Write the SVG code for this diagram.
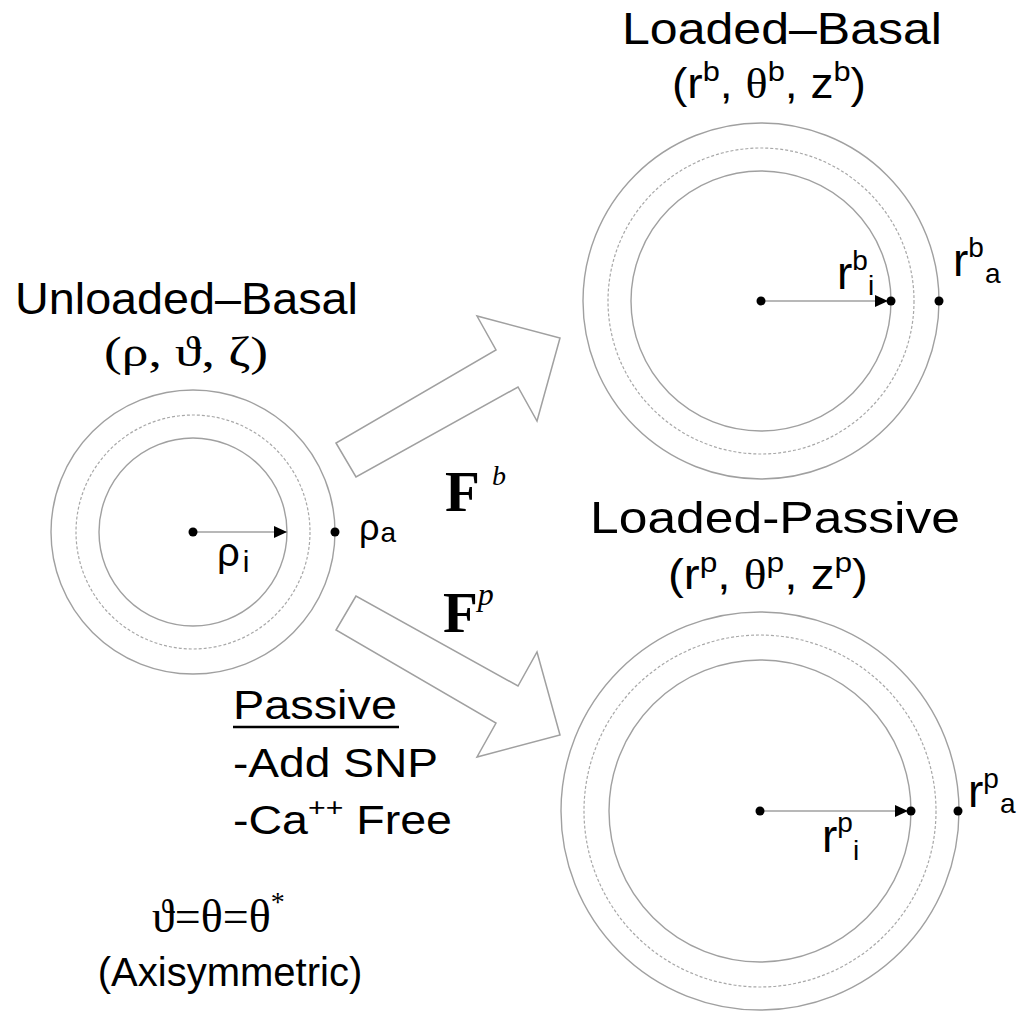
<svg xmlns="http://www.w3.org/2000/svg" width="1021" height="1011" viewBox="0 0 1021 1011">
<defs>
<style>
.ring{fill:none;stroke:#a0a0a0;stroke-width:1.4}
.dash{fill:none;stroke:#a8a8a8;stroke-width:1.2;stroke-dasharray:3 2}
.rad{stroke:#a0a0a0;stroke-width:1.6}
.dot{fill:#000}
.blk{fill:#fff;stroke:#a0a0a0;stroke-width:1.5;stroke-linejoin:miter}
.sans{font-family:"Liberation Sans",Arial,sans-serif;fill:#000}
.serif{font-family:"Liberation Serif","DejaVu Serif",serif;fill:#000}
</style>
<marker id="ah" markerUnits="userSpaceOnUse" markerWidth="14" markerHeight="12" refX="13" refY="6" orient="auto">
<path d="M0,0 L13,6 L0,12 Z" fill="#000"/>
</marker>
</defs>
<rect width="1021" height="1011" fill="#fff"/>

<g id="connectors">
<polygon class="blk" points="336,443 356,477 518,387 537,421 560,338 477,316 496,350"/>
<polygon class="blk" points="356,596 336,630 496,723 477,757 560,735 537,652 518,686"/>
</g>

<g id="unloaded-basal">
<circle class="ring" cx="193" cy="532" r="142"/>
<circle class="dash" cx="193" cy="532" r="117"/>
<circle class="ring" cx="193" cy="532" r="94"/>
<line class="rad" x1="193" y1="532" x2="287" y2="532" marker-end="url(#ah)"/>
<circle class="dot" cx="193" cy="532" r="4.5"/>
<circle class="dot" cx="335" cy="532" r="4.5"/>
<text class="sans" x="15" y="314" font-size="45" textLength="343" lengthAdjust="spacingAndGlyphs">Unloaded–Basal</text>
<text class="serif" x="104" y="366" font-size="42" textLength="164" lengthAdjust="spacingAndGlyphs">(ρ, ϑ, ζ)</text>
<text class="sans" x="359" y="540" font-size="36">ρ<tspan font-size="28" dy="2" dx="1">a</tspan></text>
<text class="sans" x="217" y="566" font-size="40">ρ<tspan font-size="30" dy="6" dx="3">i</tspan></text>
</g>

<g id="loaded-basal">
<circle class="ring" cx="761" cy="301" r="178"/>
<circle class="dash" cx="761" cy="301" r="153"/>
<circle class="ring" cx="761" cy="301" r="130"/>
<line class="rad" x1="761" y1="301" x2="888" y2="301" marker-end="url(#ah)"/>
<circle class="dot" cx="761" cy="301" r="4.5"/>
<circle class="dot" cx="891" cy="301" r="4.5"/>
<circle class="dot" cx="939" cy="301" r="4.5"/>
<text class="sans" x="622" y="44" font-size="45" textLength="320" lengthAdjust="spacingAndGlyphs">Loaded–Basal</text>
<text class="sans" x="672" y="98" font-size="42" textLength="194" lengthAdjust="spacingAndGlyphs">(r<tspan font-size="28" dy="-17">b</tspan><tspan dy="17">, </tspan><tspan class="serif">θ</tspan><tspan font-size="28" dy="-17">b</tspan><tspan dy="17">, z</tspan><tspan font-size="28" dy="-17">b</tspan><tspan dy="17">)</tspan></text>
<text class="sans" x="837" y="289" font-size="46">r<tspan font-size="28" dy="-19">b</tspan><tspan font-size="28" dy="25">i</tspan></text>
<text class="sans" x="953" y="276" font-size="46">r<tspan font-size="28" dy="-19">b</tspan><tspan font-size="28" dx="1" dy="26">a</tspan></text>
</g>

<g id="loaded-passive">
<circle class="ring" cx="760" cy="811" r="199"/>
<circle class="dash" cx="760" cy="811" r="176"/>
<circle class="ring" cx="760" cy="811" r="151"/>
<line class="rad" x1="760" y1="811" x2="908" y2="811" marker-end="url(#ah)"/>
<circle class="dot" cx="760" cy="811" r="4.5"/>
<circle class="dot" cx="911" cy="811" r="4.5"/>
<circle class="dot" cx="958" cy="811" r="4.5"/>
<text class="sans" x="590" y="533" font-size="45" textLength="370" lengthAdjust="spacingAndGlyphs">Loaded-Passive</text>
<text class="sans" x="668" y="589" font-size="42" textLength="200" lengthAdjust="spacingAndGlyphs">(r<tspan font-size="28" dy="-17">p</tspan><tspan dy="17">, </tspan><tspan class="serif">θ</tspan><tspan font-size="28" dy="-17">p</tspan><tspan dy="17">, z</tspan><tspan font-size="28" dy="-17">p</tspan><tspan dy="17">)</tspan></text>
<text class="sans" x="822" y="852" font-size="46">r<tspan font-size="28" dy="-20">p</tspan><tspan font-size="28" dy="28">i</tspan></text>
<text class="sans" x="968" y="807" font-size="46">r<tspan font-size="28" dy="-19">p</tspan><tspan font-size="28" dx="1" dy="25">a</tspan></text>
</g>

<g id="labels">
<text class="serif" x="445" y="511" font-size="57" font-weight="bold">F</text>
<text class="serif" x="492" y="485" font-size="28" font-style="italic">b</text>
<text class="serif" x="443" y="632" font-size="57" font-weight="bold">F<tspan font-size="32" font-weight="normal" font-style="italic" dy="-27">p</tspan></text>
<text class="sans" x="233" y="719" font-size="40" textLength="164" lengthAdjust="spacingAndGlyphs">Passive</text>
<line x1="233" y1="727" x2="399" y2="727" stroke="#000" stroke-width="2.5"/>
<text class="sans" x="233" y="777" font-size="40" textLength="205" lengthAdjust="spacingAndGlyphs">-Add SNP</text>
<text class="sans" x="233" y="834" font-size="40" textLength="219" lengthAdjust="spacingAndGlyphs">-Ca<tspan font-size="26" dy="-18">++</tspan><tspan dy="18"> Free</tspan></text>
<text class="serif" x="152" y="932" font-size="46">ϑ=θ=θ<tspan font-size="28" dy="-21">*</tspan></text>
<text class="sans" x="230" y="986" font-size="40" text-anchor="middle">(Axisymmetric)</text>
</g>
</svg>
